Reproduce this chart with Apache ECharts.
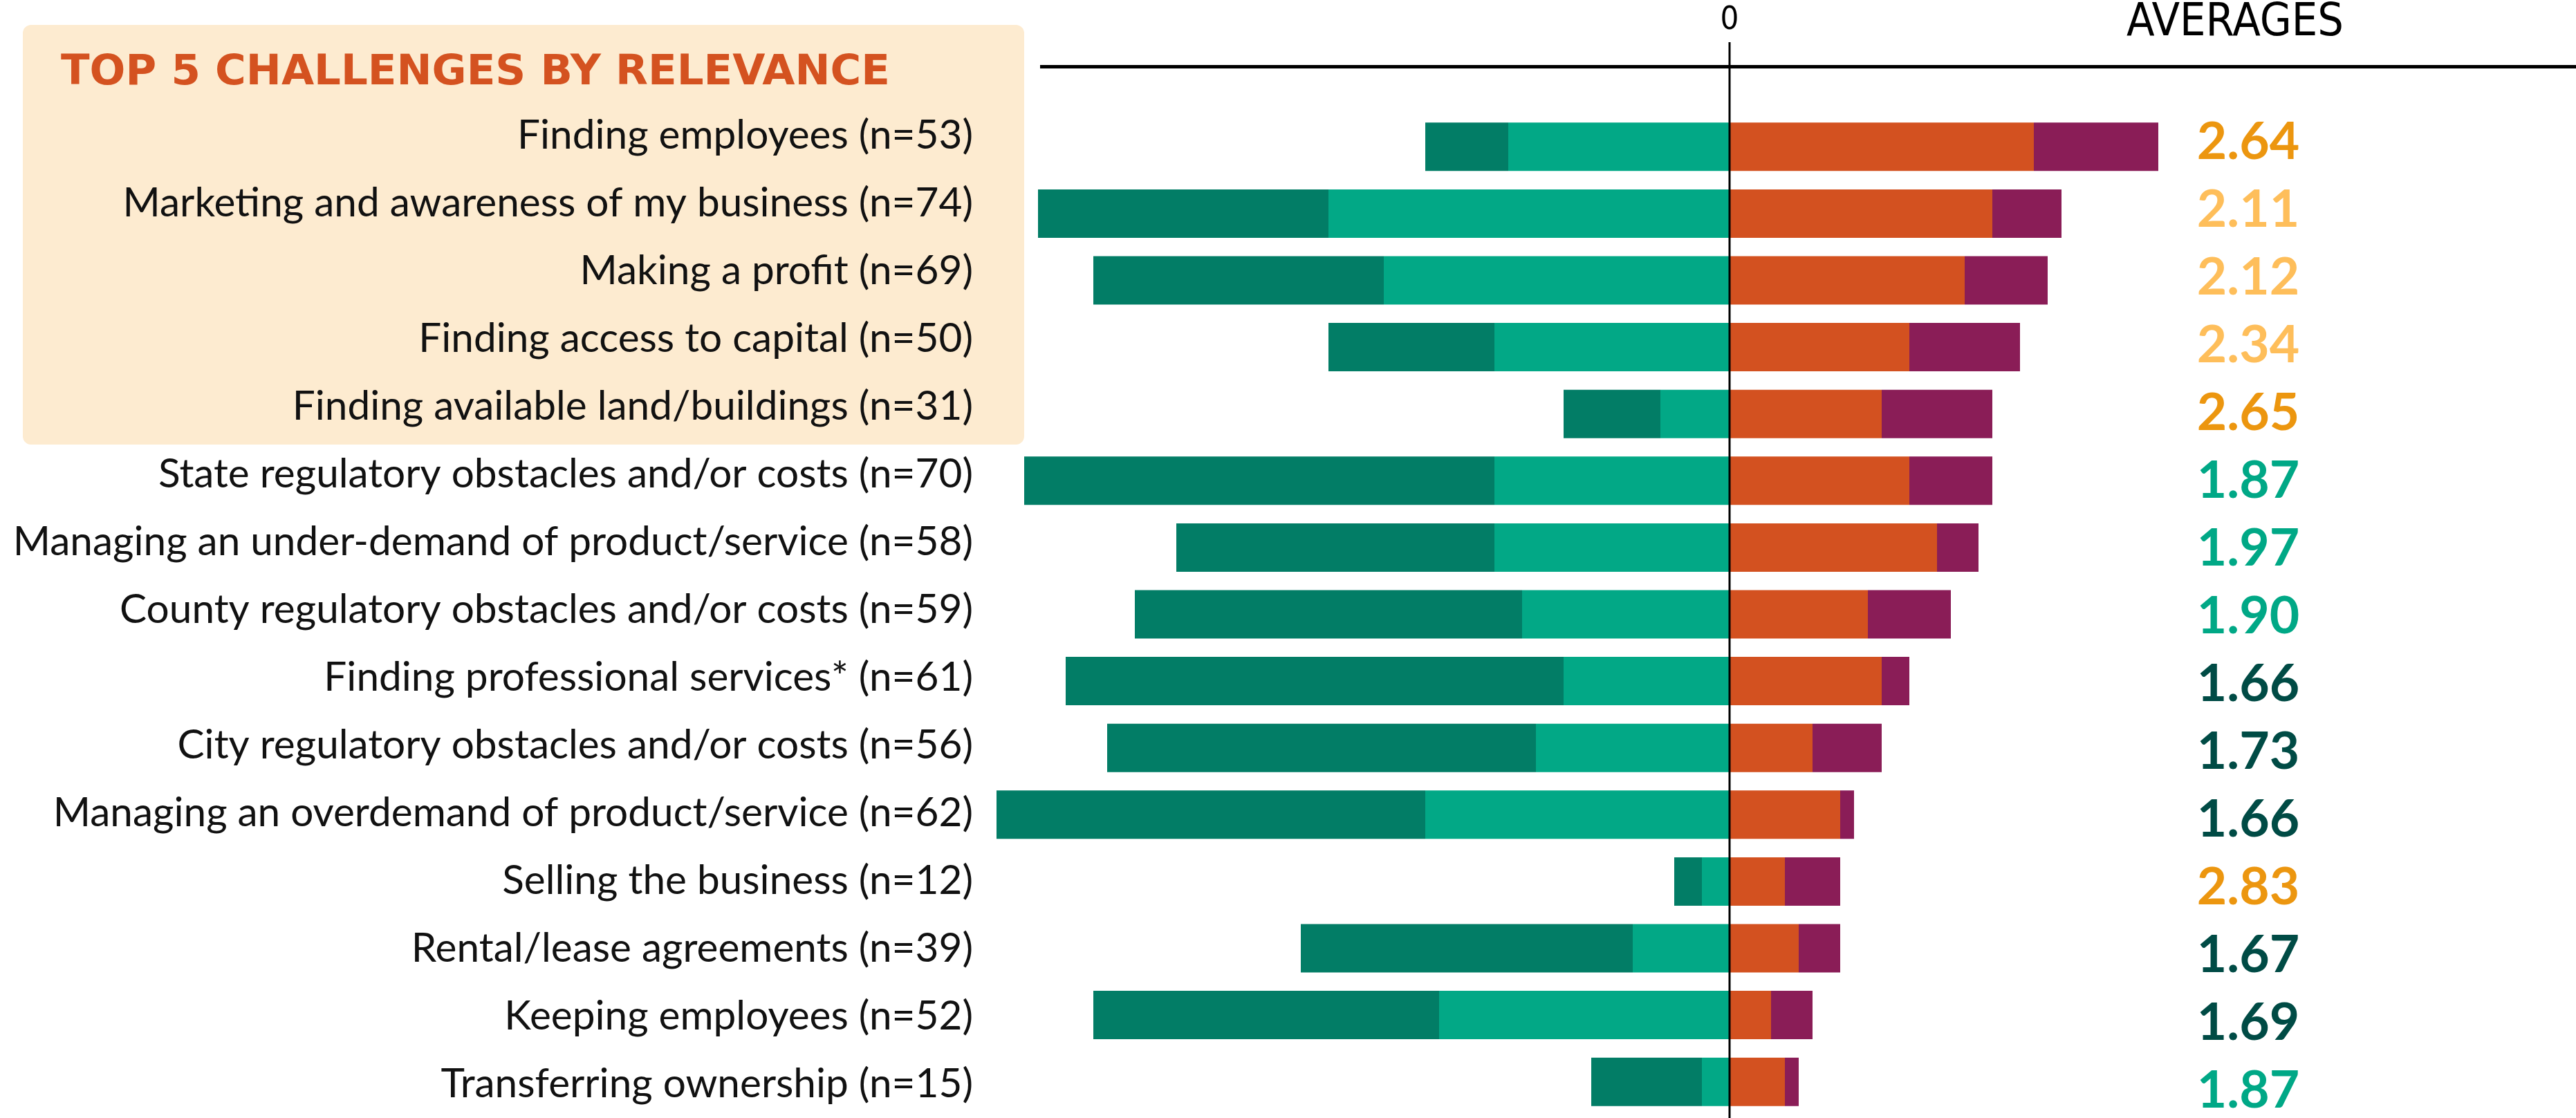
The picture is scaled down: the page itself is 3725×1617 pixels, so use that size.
<!DOCTYPE html>
<html>
<head>
<meta charset="utf-8">
<script src="https://cdn.jsdelivr.net/npm/echarts@6/dist/echarts.min.js"></script>
<style>
  html, body { margin: 0; padding: 0; background: #fff; }
  #chart { width: 3725px; height: 1617px; }
</style>
</head>
<body>
<div id="chart"></div>
<script>
// categories, top to bottom
var categories = [
    'Finding employees (n=53)',
    'Marketing and awareness of my business (n=74)',
    'Making a profit (n=69)',
    'Finding access to capital (n=50)',
    'Finding available land/buildings (n=31)',
    'State regulatory obstacles and/or costs (n=70)',
    'Managing an under-demand of product/service (n=58)',
    'County regulatory obstacles and/or costs (n=59)',
    'Finding professional services* (n=61)',
    'City regulatory obstacles and/or costs (n=56)',
    'Managing an overdemand of product/service (n=62)',
    'Selling the business (n=12)',
    'Rental/lease agreements (n=39)',
    'Keeping employees (n=52)',
    'Transferring ownership (n=15)'
];
// response counts (left side drawn negative)
var notChallenge   = [6, 21, 21, 12, 7, 34, 23, 28, 36, 31, 31, 2, 24, 25, 8];
var minorChallenge = [16, 29, 25, 17, 5, 17, 17, 15, 12, 14, 22, 2, 7, 21, 2];
var moderateChallenge = [22, 19, 17, 13, 11, 13, 15, 10, 11, 6, 8, 4, 5, 3, 4];
var majorChallenge = [9, 5, 6, 8, 8, 6, 3, 6, 2, 5, 1, 4, 3, 3, 1];
var averages = ['2.64', '2.11', '2.12', '2.34', '2.65', '1.87', '1.97', '1.90', '1.66', '1.73', '1.66', '2.83', '1.67', '1.69', '1.87'];

function neg(arr) { return arr.map(function (v) { return -v; }); }
function avgClass(v) {
    v = parseFloat(v);
    if (v >= 2.5) return 'hi';
    if (v >= 2.0) return 'mid';
    if (v >= 1.8) return 'low';
    return 'lowest';
}

var narrowFont = '"Liberation Sans Narrow", "DejaVu Sans Condensed", "Roboto", sans-serif';
var avgStyle = function (c) {
    return { fontSize: 75, fontWeight: 'bold', color: c, fontFamily: 'Lato', padding: [20, 0, 0, 0] };
};

var myChart = echarts.init(document.getElementById('chart'));
var option = {
    backgroundColor: '#fff',
    animation: false,
    textStyle: { fontFamily: 'Lato' },
    grid: [
        { left: 1301, right: 24, top: 164, bottom: 4 },      // bars
        { left: 1415, right: 474, top: 147, bottom: -20 }    // labels + averages
    ],
    xAxis: [
        { gridIndex: 0, type: 'value', min: -60, max: 60, show: false },
        { gridIndex: 1, type: 'value', min: 0, max: 1, show: false }
    ],
    yAxis: [
        {
            gridIndex: 0, type: 'category', data: categories, inverse: true,
            axisLine: { show: false }, axisTick: { show: false }, axisLabel: { show: false }
        },
        {
            gridIndex: 1, type: 'category', data: categories, inverse: true, position: 'left',
            axisLine: { show: false }, axisTick: { show: false },
            axisLabel: { fontSize: 58.5, color: '#111', margin: 8, fontFamily: 'Lato' }
        },
        {
            gridIndex: 1, type: 'category', data: categories, inverse: true, position: 'right',
            axisLine: { show: false }, axisTick: { show: false },
            axisLabel: {
                margin: 0, align: 'center',
                formatter: function (v, i) {
                    var a = averages[i];
                    return '{' + avgClass(a) + '|' + a + '}';
                },
                rich: {
                    hi:     avgStyle('#EC960F'),
                    mid:    avgStyle('#FEBE5A'),
                    low:    avgStyle('#00A886'),
                    lowest: avgStyle('#004B45')
                }
            }
        }
    ],
    series: [
        {
            name: 'Minor challenge', type: 'bar', stack: 'total', barWidth: 70,
            xAxisIndex: 0, yAxisIndex: 0,
            itemStyle: { color: '#02A886' },
            data: neg(minorChallenge)
        },
        {
            name: 'Not a challenge', type: 'bar', stack: 'total', barWidth: 70,
            xAxisIndex: 0, yAxisIndex: 0,
            itemStyle: { color: '#027D66' },
            data: neg(notChallenge)
        },
        {
            name: 'Moderate challenge', type: 'bar', stack: 'total', barWidth: 70,
            xAxisIndex: 0, yAxisIndex: 0,
            itemStyle: { color: '#D35120' },
            data: moderateChallenge
        },
        {
            name: 'Major challenge', type: 'bar', stack: 'total', barWidth: 70,
            xAxisIndex: 0, yAxisIndex: 0,
            itemStyle: { color: '#8A1D57' },
            data: majorChallenge
        }
    ]
};
myChart.setOption(option);

// 装饰：背景框、标题、零线、顶部横线
var zeroX = myChart.convertToPixel({ xAxisIndex: 0 }, 0);
myChart.setOption({
    graphic: [
        {
            type: 'rect', z: -10, silent: true,
            shape: { x: 33, y: 36, width: 1448, height: 607, r: 12 },
            style: { fill: '#FDEBD0' }
        },
        {
            type: 'text', z: 10, x: 88, y: 106,
            style: { text: 'TOP 5 CHALLENGES BY RELEVANCE', fill: '#D45220', font: 'bold 61px "DejaVu Sans"', verticalAlign: 'middle' }
        },
        {
            type: 'line', z: 20, silent: true,
            shape: { x1: 1504, y1: 96.5, x2: 3725, y2: 96.5 },
            style: { stroke: '#000', lineWidth: 5 }
        },
        {
            type: 'line', z: 20, silent: true,
            shape: { x1: zeroX, y1: 61, x2: zeroX, y2: 1617 },
            style: { stroke: '#000', lineWidth: 3 }
        },
        {
            type: 'text', z: 10, x: zeroX, y: 30,
            style: { text: '0', fill: '#000', font: '47px ' + narrowFont, align: 'center', verticalAlign: 'middle' }
        },
        {
            type: 'text', z: 10, x: 3232, y: 34,
            style: { text: 'AVERAGES', fill: '#000', font: '66px ' + narrowFont, align: 'center', verticalAlign: 'middle' }
        }
    ]
});
</script>
</body>
</html>
